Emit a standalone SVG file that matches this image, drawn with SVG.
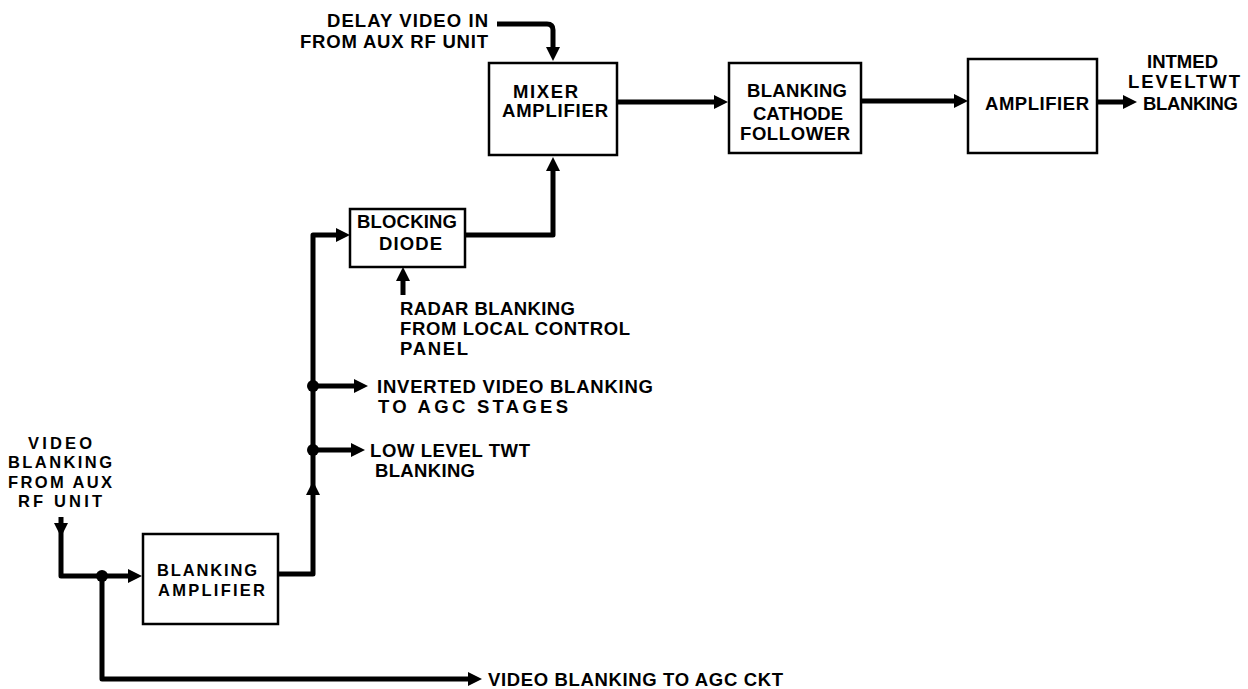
<svg xmlns="http://www.w3.org/2000/svg" width="1248" height="689" viewBox="0 0 1248 689">
<style>
.box{fill:#fff;stroke:#000;stroke-width:2.5}
.t{font-family:"Liberation Sans",Arial,sans-serif;font-weight:bold;font-size:18.5px;fill:#000}
.s{font-size:16.5px}
.w{fill:none;stroke:#000;stroke-width:5;stroke-linejoin:round;stroke-linecap:butt}
.a{marker-end:url(#ah)}
.h{fill:#000}
</style>
<defs>
<marker id="ah" viewBox="0 0 14 14" refX="6" refY="7" markerWidth="14" markerHeight="14" markerUnits="userSpaceOnUse" orient="auto">
<path d="M0,0 L14,7 L0,14 z" fill="#000"/>
</marker>
</defs>
<rect width="1248" height="689" fill="#fff"/>
<g id="connectors">
<path class="w a" d="M497,24 H547 Q553,24 553,30 V53"/>
<path class="w a" d="M617,102 H720"/>
<path class="w a" d="M861,101 H960"/>
<path class="w a" d="M1097,102 H1129"/>
<path class="w a" d="M465,235 H553 V165"/>
<path class="w a" d="M278,574 H313 V235 H342"/>
<polygon class="h" points="306,495 313,481 320,495"/>
<path class="w a" d="M313,386 H360"/>
<path class="w a" d="M313,450 H357"/>
<path class="w a" d="M403,295 V275"/>
<path class="w a" d="M61,517 V576 H134"/>
<polygon class="h" points="54,523 68,523 61,537"/>
<path class="w a" d="M102,576 V679 H474"/>
<circle class="h" cx="102" cy="576" r="6"/>
<circle class="h" cx="313" cy="386" r="6"/>
<circle class="h" cx="313" cy="450" r="6"/>
</g>
<g id="label-delay">
<text class="t" x="327" y="27" textLength="161">DELAY VIDEO IN</text>
<text class="t" x="300" y="48" textLength="188">FROM AUX RF UNIT</text>
</g>
<g id="mixer-amplifier">
<rect class="box" x="489" y="63" width="128" height="92"/>
<text class="t" x="513" y="98" textLength="65">MIXER</text>
<text class="t" x="502" y="117" textLength="106">AMPLIFIER</text>
</g>
<g id="blanking-cathode-follower">
<rect class="box" x="729" y="63" width="132" height="90"/>
<text class="t" x="747" y="97" textLength="100">BLANKING</text>
<text class="t" x="753" y="120" textLength="90">CATHODE</text>
<text class="t" x="740" y="140" textLength="110">FOLLOWER</text>
</g>
<g id="amplifier">
<rect class="box" x="968" y="59" width="129" height="94"/>
<text class="t" x="985" y="110" textLength="104">AMPLIFIER</text>
</g>
<g id="label-intmed">
<text class="t" x="1147" y="68" textLength="71">INTMED</text>
<text class="t" x="1128" y="88" textLength="112">LEVELTWT</text>
<text class="t" x="1143" y="110" textLength="95">BLANKING</text>
</g>
<g id="blocking-diode">
<rect class="box" x="350" y="209" width="115" height="58"/>
<text class="t" x="357" y="228" textLength="100">BLOCKING</text>
<text class="t" x="379" y="250" textLength="63">DIODE</text>
</g>
<g id="label-radar">
<text class="t" x="400" y="315" textLength="175">RADAR BLANKING</text>
<text class="t" x="400" y="335" textLength="230">FROM LOCAL CONTROL</text>
<text class="t" x="400" y="355" textLength="68">PANEL</text>
</g>
<g id="label-inverted">
<text class="t" x="377" y="393" textLength="276">INVERTED VIDEO BLANKING</text>
<text class="t" x="378" y="413" textLength="190">TO AGC STAGES</text>
</g>
<g id="label-lowlevel">
<text class="t" x="370" y="457" textLength="160">LOW LEVEL TWT</text>
<text class="t" x="375" y="477" textLength="100">BLANKING</text>
</g>
<g id="label-video-in">
<text class="t s" x="28" y="449" textLength="64">VIDEO</text>
<text class="t s" x="8" y="468" textLength="104">BLANKING</text>
<text class="t s" x="8" y="488" textLength="104">FROM AUX</text>
<text class="t s" x="18" y="507" textLength="84">RF UNIT</text>
</g>
<g id="blanking-amplifier">
<rect class="box" x="143" y="534" width="135" height="90"/>
<text class="t s" x="157" y="576" textLength="100">BLANKING</text>
<text class="t s" x="158" y="596" textLength="107">AMPLIFIER</text>
</g>
<g id="label-agc">
<text class="t" x="488" y="686" textLength="295">VIDEO BLANKING TO AGC CKT</text>
</g>
</svg>
